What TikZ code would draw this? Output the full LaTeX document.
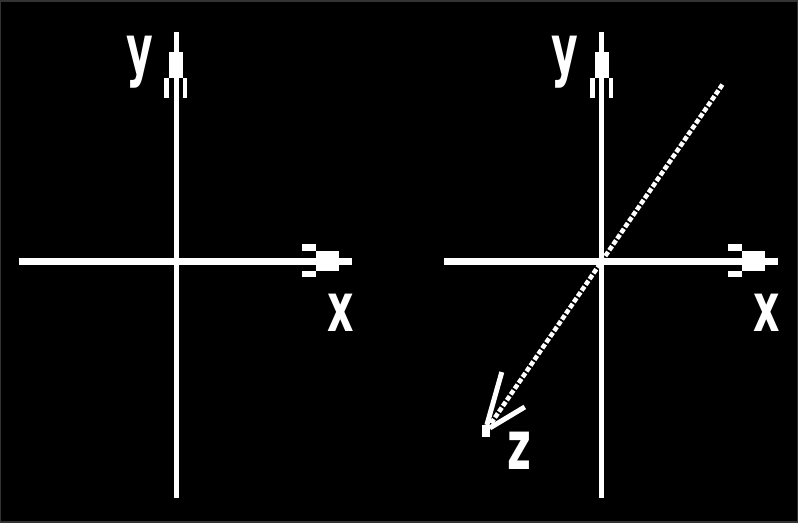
\documentclass[tikz,border=0pt]{standalone}
\usepackage{fontspec}
\setmainfont{DejaVu Sans}
\usetikzlibrary{positioning}

\begin{document}
\begin{tikzpicture}[
  x=0.02cm, y=-0.02cm,
  haxis/.style={draw=white, line width=0.13cm},
  vaxis/.style={draw=white, line width=0.09cm},
  zaxis/.style={draw=white, line width=0.09cm, dash pattern=on 0.1cm off 0.04cm},
  prong/.style={draw=white, line width=0.1cm},
  lbl/.style={text=white, inner sep=0pt, anchor=base,
              font=\fontsize{39}{39}\selectfont\bfseries},
  hfeather/.pic={
    \fill[white] (-36,-10) rectangle (-13,10);
    \fill[white] (-50,-17) rectangle (-36,-10);
    \fill[white] (-50,10) rectangle (-36,16);
  },
  vfeather/.pic={
    \fill[white] (-7,20) rectangle (7,46);
    \fill[white] (-12,46) rectangle (-7,66);
    \fill[white] (7,46) rectangle (11,66);
  }
]
  \fill[black, draw=black!80, line width=0.03cm] (0,0) rectangle (798,522);
  \useasboundingbox (0,0) rectangle (798,522);

  % left panel: x and y
  \coordinate (lxs) at (18,261);
  \coordinate (lxe) at (352,261);
  \coordinate (lyb) at (176,498);
  \coordinate (lyt) at (176,31);
  \draw[haxis] (lxs) -- (lxe);
  \draw[vaxis] (lyb) -- (lyt);
  \pic at (lxe) {hfeather};
  \pic at (lyt) {vfeather};
  \node[lbl] (lx) at (340.5,331) {\scalebox{0.6}[1]{x}};
  \node[lbl] (ly) at (139.5,73) {\scalebox{0.6}[1]{y}};

  % right panel: x, y and z
  \coordinate (rxs) at (444,261);
  \coordinate (rxe) at (779,261);
  \coordinate (ryb) at (602,498);
  \coordinate (ryt) at (602,31);
  \coordinate (rzs) at (723,84);
  \coordinate (rze) at (486,431);
  \draw[haxis] (rxs) -- (rxe);
  \draw[vaxis] (ryb) -- (ryt);
  \pic at (rxe) {hfeather};
  \pic at (ryt) {vfeather};
  \draw[zaxis] (rzs) -- (rze);
  \draw[prong] ([shift={(16,-59)}]rze) -- ([shift={(1,-6)}]rze);
  \draw[prong] ([shift={(39,-24)}]rze) -- ([shift={(4,-3)}]rze);
  \fill[white] ([shift={(-4,-6)}]rze) rectangle ([shift={(4,6)}]rze);
  \node[lbl] (rx) at (767,331) {\scalebox{0.6}[1]{x}};
  \node[lbl] (ry) at (565.5,73) {\scalebox{0.6}[1]{y}};
  \node[lbl] (rz) at (519.5,470) {\scalebox{0.6}[1]{z}};
\end{tikzpicture}
\end{document}
